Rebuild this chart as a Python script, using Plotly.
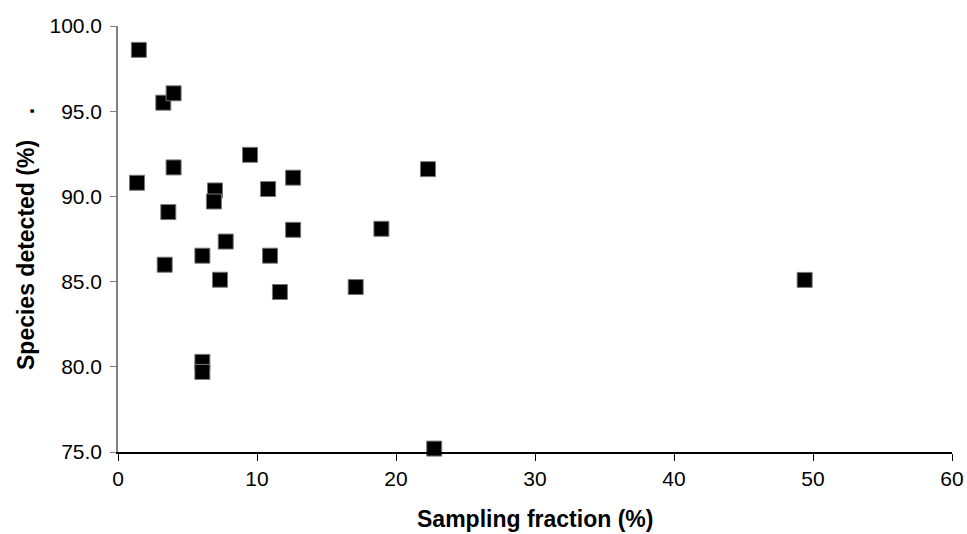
import plotly.graph_objects as go

sampling_fraction = [1.5, 3.26, 4.0, 1.37, 4.0, 3.62, 3.36, 6.98, 6.9, 6.07, 7.75, 7.34,
                     6.07, 6.07, 9.5, 10.8, 12.6, 12.6, 10.94, 11.65, 17.1, 18.95, 22.3, 22.75, 49.4]
species_detected = [98.6, 95.5, 96.05, 90.8, 91.7, 89.08, 85.99, 90.35, 89.7, 86.52, 87.35, 85.11,
                    80.29, 79.7, 92.44, 90.43, 91.1, 88.04, 86.52, 84.39, 84.68, 88.1, 91.6, 75.2, 85.1]

x_ticks = [0, 10, 20, 30, 40, 50, 60]
y_ticks = [75, 80, 85, 90, 95, 100]

x_title = "<b>Sampling fraction (%)</b>"
y_title = "<b>Species detected (%)\u00a0\u00a0\u00a0\u00a0.</b>"

FONT = "Arial, Liberation Sans, sans-serif"

fig = go.Figure()
fig.add_trace(go.Scatter(
    x=sampling_fraction, y=species_detected, mode="markers",
    marker=dict(symbol="square", size=15, color="black", line=dict(color="#777777", width=1)),
    cliponaxis=False, showlegend=False,
))

fig.update_layout(
    width=967, height=534,
    margin=dict(l=118, r=15, t=26, b=82, autoexpand=False),
    paper_bgcolor="white", plot_bgcolor="white",
    font=dict(family=FONT, color="black", size=21),
    xaxis=dict(
        range=[0, 60], tickvals=x_ticks, showgrid=False, zeroline=False, automargin=False,
        showline=True, linecolor="black", linewidth=1.5,
        ticks="outside", ticklen=7, tickcolor="black", tickwidth=1,
        tickfont=dict(size=21, family=FONT),
    ),
    yaxis=dict(
        range=[75, 100], tickvals=y_ticks, tickformat=".1f", showgrid=False, zeroline=False,
        automargin=False,
        showline=True, linecolor="#808080", linewidth=1.5,
        ticks="outside", ticklen=6, tickcolor="#808080", tickwidth=1,
        tickfont=dict(size=21, family=FONT), ticklabelstandoff=4,
    ),
    annotations=[
        dict(text=x_title, xref="paper", yref="paper", x=0.5, y=-0.158,
             xanchor="center", yanchor="middle", showarrow=False,
             font=dict(size=23, family=FONT, color="black")),
        dict(text=y_title, xref="paper", yref="paper", x=-0.1103, y=0.5,
             xanchor="center", yanchor="middle", textangle=-90, showarrow=False,
             font=dict(size=23, family=FONT, color="black")),
    ],
)

fig.write_html("out.html")
